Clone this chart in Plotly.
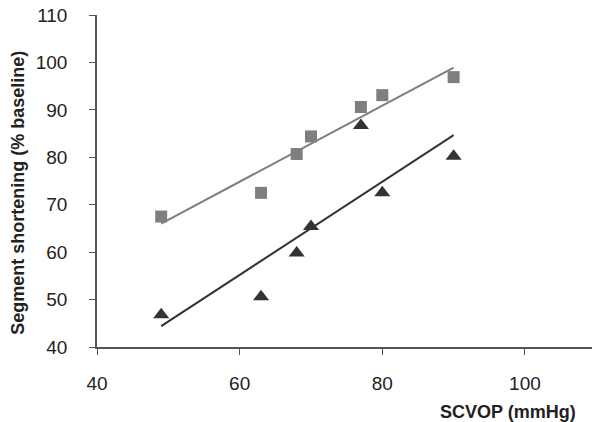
import numpy as np
import plotly.graph_objects as go

scvop = [49, 63, 68, 70, 77, 80, 90]
squares = [67.5, 72.5, 80.7, 84.4, 90.6, 93.1, 96.9]
triangles = [46.8, 50.6, 59.8, 65.4, 86.7, 72.5, 80.2]
x_ticks = [40, 60, 80, 100]
y_ticks = [40, 50, 60, 70, 80, 90, 100, 110]

sq_color = "#7f7f7f"
tri_color = "#333333"
font_family = "Liberation Sans, Arial, sans-serif"

fig = go.Figure()

xs = np.array(scvop, dtype=float)
xl = np.array([xs.min(), xs.max()])
for ys, col in [(squares, sq_color), (triangles, tri_color)]:
    m, b = np.polyfit(xs, np.array(ys), 1)
    fig.add_trace(go.Scatter(x=xl, y=m * xl + b, mode="lines",
                             line=dict(color=col, width=2), showlegend=False,
                             hoverinfo="skip"))

fig.add_trace(go.Scatter(x=scvop, y=squares, mode="markers",
                         marker=dict(symbol="square", size=12, color=sq_color),
                         showlegend=False))
fig.add_trace(go.Scatter(x=scvop, y=triangles, mode="markers",
                         marker=dict(symbol="triangle-up", size=14, color=tri_color),
                         showlegend=False))

axis_common = dict(showgrid=False, zeroline=False, showline=True,
                   linecolor="#555555", linewidth=1.5, ticks="outside",
                   ticklen=6, tickcolor="#555555", tickwidth=1,
                   tickfont=dict(family=font_family, size=19, color="#222222"))

fig.update_xaxes(range=[40, 109.4], tickvals=x_ticks, ticklabelstandoff=12,
                 **axis_common)
fig.update_yaxes(range=[40, 110], tickvals=y_ticks, ticklabelstandoff=18,
                 **axis_common)

fig.add_annotation(text="<b>SCVOP (mmHg)</b>", xref="paper", yref="paper",
                   x=0.972, y=-0.196, xanchor="right", yanchor="middle",
                   showarrow=False,
                   font=dict(family=font_family, size=18, color="#222222"))
fig.add_annotation(text="<b>Segment shortening (% baseline)</b>", xref="paper",
                   yref="paper", x=-0.16, y=0.464, xanchor="center",
                   yanchor="middle", textangle=-90, showarrow=False,
                   font=dict(family=font_family, size=18, color="#222222"))

fig.update_layout(width=592, height=422, plot_bgcolor="white",
                  paper_bgcolor="white",
                  margin=dict(l=97, r=0, t=15, b=75))

fig.write_html("out.html", config={"displayModeBar": False},
               post_script="document.body.style.margin='0';")
